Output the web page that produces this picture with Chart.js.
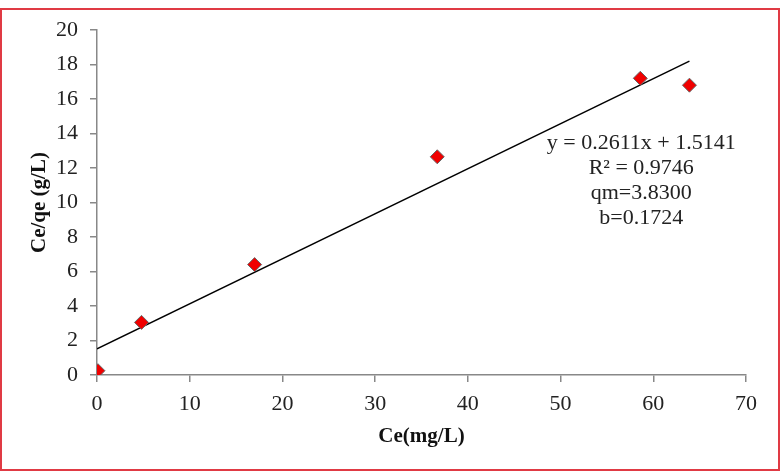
<!DOCTYPE html>
<html lang="en">
<head>
  <meta charset="UTF-8">
  <title>Ce/qe vs Ce</title>
  <script src="https://cdn.jsdelivr.net/npm/chart.js"></script>
  <style>
    body { margin: 0; background: #fff; }
    #wrap { position: relative; width: 782px; height: 474px; }
    #frame { position: absolute; left: 0; top: 8px; width: 776px; height: 459px;
             border: 2px solid #e03a44; pointer-events: none; }
  </style>
</head>
<body>
<div id="wrap">
  <canvas id="chart" width="782" height="474"></canvas>
  <div id="frame"></div>
</div>
<script>
  // measured points
  const ceValues = [0.1, 4.8, 17.0, 36.7, 58.6, 63.9];
  const ceqeValues = [0.25, 3.05, 6.4, 12.65, 17.2, 16.8];

  // linear fit line
  const fitX = [0, 63.9];
  const fitY = [1.514, 18.2];

  const fitText = ['y = 0.2611x + 1.5141', 'R\u00b2 = 0.9746', 'qm=3.8300', 'b=0.1724'];
  const fitTextAt = { x: 58.7, y: 13.45 };

  const serif = "'Liberation Serif', 'Times New Roman', serif";

  // draws the equation text
  const fitLabel = {
    id: 'fitLabel',
    afterDraw(chart) {
      const ctx = chart.ctx;
      const px = chart.scales.x.getPixelForValue(fitTextAt.x);
      const py = chart.scales.y.getPixelForValue(fitTextAt.y);
      ctx.save();
      ctx.font = '22px ' + serif;
      ctx.fillStyle = '#222';
      ctx.textAlign = 'center';
      ctx.textBaseline = 'middle';
      fitText.forEach((t, i) => ctx.fillText(t, px, py + i * 25));
      ctx.restore();
    }
  };

  new Chart(document.getElementById('chart'), {
    type: 'scatter',
    data: {
      datasets: [{
        label: 'data',
        data: ceValues.map((v, i) => ({ x: v, y: ceqeValues[i] })),
        pointStyle: 'rectRot',
        pointRadius: 7,
        backgroundColor: '#f00000',
        borderColor: '#666',
        borderWidth: 1,
        order: 1
      }, {
        label: 'fit',
        type: 'line',
        data: fitX.map((v, i) => ({ x: v, y: fitY[i] })),
        borderColor: '#000',
        borderWidth: 1.5,
        pointRadius: 0,
        fill: false,
        order: 2
      }]
    },
    options: {
      responsive: false,
      animation: false,
      layout: { padding: { top: 30, right: 36, left: 0, bottom: 0 } },
      plugins: { legend: { display: false }, tooltip: { enabled: false } },
      scales: {
        x: {
          type: 'linear',
          min: 0, max: 70,
          ticks: { stepSize: 10, color: '#222', padding: 9, font: { family: serif, size: 22 } },
          grid: { drawOnChartArea: false, drawTicks: true, tickLength: 7, color: '#888', lineWidth: 1.5 },
          border: { color: '#888', width: 1.5 },
          title: { display: true, text: 'Ce(mg/L)', color: '#111', padding: { top: 0, bottom: 25 },
                   font: { family: serif, size: 21, weight: 'bold' } },
          afterFit(scale) { scale.height = 99; }
        },
        y: {
          min: 0, max: 20,
          ticks: { stepSize: 2, color: '#222', padding: 12, font: { family: serif, size: 22 } },
          grid: { drawOnChartArea: false, drawTicks: true, tickLength: 7, color: '#888', lineWidth: 1.5 },
          border: { color: '#888', width: 1.5 },
          title: { display: true, text: 'Ce/qe (g/L)', color: '#111', padding: { top: 27, bottom: 0 },
                   font: { family: serif, size: 21, weight: 'bold' } },
          afterFit(scale) { scale.width = 97; }
        }
      }
    },
    plugins: [fitLabel]
  });
</script>
</body>
</html>
